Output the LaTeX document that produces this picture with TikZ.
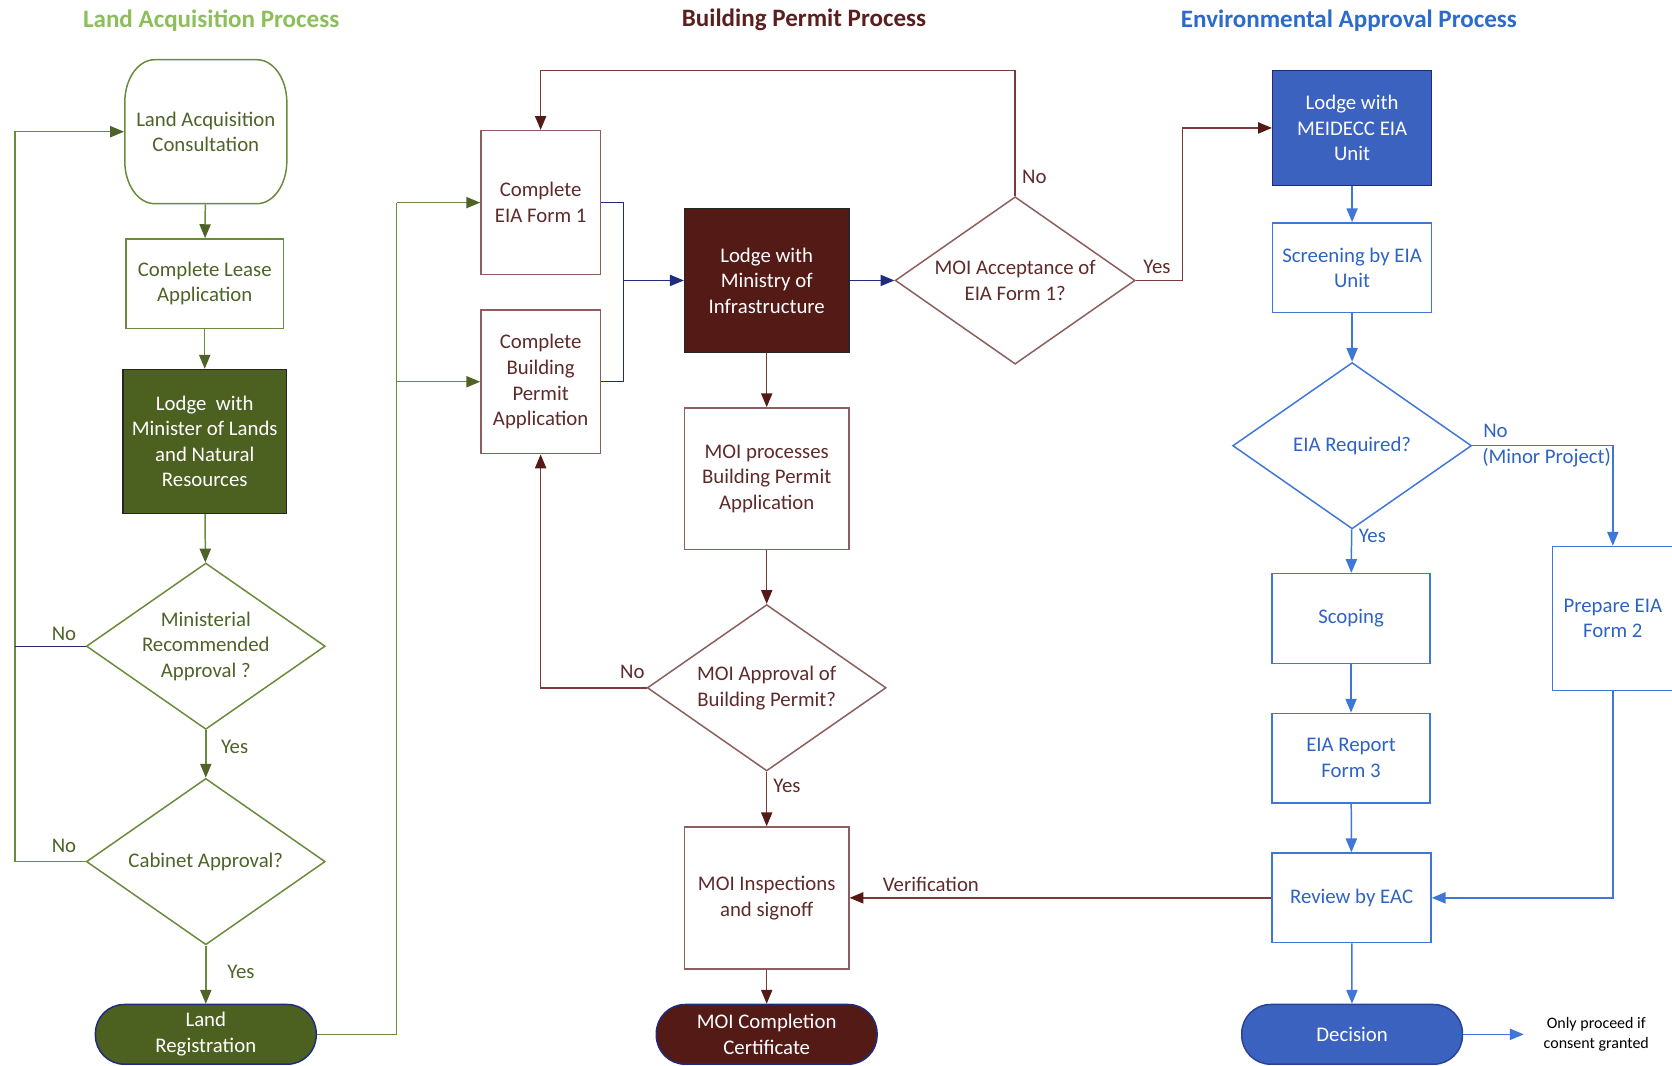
\documentclass[tikz,border=0pt]{standalone}
\usepackage{fontspec}
\setmainfont{Carlito}
\usetikzlibrary{shapes.geometric,arrows.meta}

\definecolor{grnttl}{HTML}{8CBF5A}
\definecolor{grnln}{HTML}{6A8A3C}
\definecolor{grntxt}{HTML}{4F6228}
\definecolor{grnfill}{HTML}{4C6020}
\definecolor{brnttl}{HTML}{5B1F1F}
\definecolor{brnln}{HTML}{7A3A3A}
\definecolor{brnbrd}{HTML}{8C5E5E}
\definecolor{brntxt}{HTML}{5E2A2A}
\definecolor{brnfill}{HTML}{541A16}
\definecolor{bluttl}{HTML}{2C6ACB}
\definecolor{bluln}{HTML}{3F77D6}
\definecolor{blutxt}{HTML}{2F63C2}
\definecolor{blufill}{HTML}{3A62BE}
\definecolor{navyln}{HTML}{1F2C7C}

\begin{document}
\begin{tikzpicture}[x=1pt, y=-1pt, line width=1.4pt,
  font=\fontsize{19.5}{24}\selectfont,
  ttl/.style={font=\fontsize{23.5}{28}\selectfont\bfseries},
  tip/.style={-{Triangle[length=13pt,width=10.5pt,color=#1]}},
  grnbox/.style={draw=grnln, text=grntxt, align=center, inner sep=0pt},
  brnbox/.style={draw=brnbrd, text=brntxt, align=center, inner sep=0pt},
  blubox/.style={draw=bluln, text=blutxt, align=center, inner sep=0pt},
  grndia/.style={grnbox, shape=diamond, aspect=1.43, minimum width=224, minimum height=156},
  brndia/.style={brnbox, shape=diamond, aspect=1.43, minimum width=224, minimum height=156},
  bludia/.style={blubox, shape=diamond, aspect=1.43, minimum width=224, minimum height=156},
  term/.style={align=center, text=white, inner sep=0pt, rounded corners=27pt, minimum width=207, minimum height=56},
  gline/.style={draw=grnln}, garr/.style={gline, tip=grntxt},
  bline/.style={draw=brnln}, barr/.style={bline, tip=brnfill},
  nline/.style={draw=navyln, line width=1.1pt}, narr/.style={nline, tip=navyln},
  uline/.style={draw=bluln}, uarr/.style={uline, tip=bluln},
  glbl/.style={text=grntxt}, blbl/.style={text=brntxt}, ulbl/.style={text=blutxt}]
\useasboundingbox (0,0) rectangle (1568,999);

% titles
\node[ttl, text=grnttl] (ttlL) at (198,19) {Land Acquisition Process};
\node[ttl, text=brnttl] (ttlM) at (754,19) {Building Permit Process};
\node[ttl, text=bluttl] (ttlR) at (1265,19) {Environmental Approval Process};

% land acquisition
\node[grnbox, draw=none, minimum width=152, minimum height=135] (consult) at (193,123.5) {Land Acquisition\\Consultation};
\draw[gline] (145,56) -- (241,56) arc[start angle=-90, end angle=0, x radius=28, y radius=40]
  -- (269,151) arc[start angle=0, end angle=90, x radius=28, y radius=40]
  -- (145,191) arc[start angle=90, end angle=180, x radius=28, y radius=40]
  -- (117,96) arc[start angle=180, end angle=270, x radius=28, y radius=40] -- cycle;
\node[grnbox, minimum width=148, minimum height=84] (lease) at (192,266) {Complete Lease\\Application};
\node[grnbox, fill=grnfill, draw=black!85, text=white, minimum width=153, minimum height=135] (lodgeL) at (192,414) {Lodge\ \ with\\Minister of Lands\\and Natural\\Resources};
\node[grndia] (minist) at (193,606) {Ministerial\\Recommended\\Approval ?};
\node[grndia] (cabinet) at (193,808) {Cabinet Approval?};
\node[term, fill=grnfill, draw=navyln] (landreg) at (193,970) {Land\\Registration};

% building permit
\node[brnbox, minimum width=112, minimum height=135] (eia1) at (507,190) {Complete\\EIA Form 1};
\node[brnbox, minimum width=112, minimum height=135] (bpa) at (507,358) {Complete\\Building\\Permit\\Application};
\node[brnbox, fill=brnfill, draw=black!85, text=white, minimum width=154, minimum height=135] (lodgeM) at (719,263) {Lodge with\\Ministry of\\Infrastructure};
\node[brndia, minimum width=225, minimum height=157] (accept) at (952,263) {MOI Acceptance of\\EIA Form 1?};
\node[brnbox, minimum width=154, minimum height=133] (process) at (719,449) {MOI processes\\Building Permit\\Application};
\node[brndia] (approve) at (719,645) {MOI Approval of\\Building Permit?};
\node[brnbox, minimum width=154, minimum height=133] (inspect) at (719,842) {MOI Inspections\\and signoff};
\node[term, fill=brnfill, draw=navyln] (cert) at (719,970) {MOI Completion\\Certificate};

% environmental approval
\node[blubox, fill=blufill, draw=navyln, text=white, minimum width=149, minimum height=108] (lodgeE) at (1268,120) {Lodge with\\MEIDECC EIA\\Unit};
\node[blubox, minimum width=149, minimum height=84] (screen) at (1268,251) {Screening by EIA\\Unit};
\node[bludia] (eiareq) at (1268,418) {EIA Required?};
\node[blubox, minimum width=148, minimum height=84] (scoping) at (1267,580) {Scoping};
\node[blubox, minimum width=148, minimum height=84] (report) at (1267,711) {EIA Report\\Form 3};
\node[blubox, minimum width=149, minimum height=84] (review) at (1267.5,842) {Review by EAC};
\node[blubox, minimum width=113, minimum height=135] (form2) at (1512.5,580) {Prepare EIA\\Form 2};
\node[term, fill=blufill, draw=navyln!70!bluln] (decision) at (1268,970) {Decision};
\node[align=center, inner sep=0pt, font=\fontsize{15}{19}\selectfont] (note) at (1497,970) {Only proceed if\\consent granted};

% green connectors
\draw[garr] (consult) -- (lease);
\draw[garr] (lease) -- (lodgeL);
\draw[garr] (lodgeL) -- (minist);
\draw[garr] (minist) -- (cabinet);
\draw[garr] (cabinet) -- (landreg);
\coordinate (loopG) at (14,808);
\draw[garr] (cabinet.west) -- (loopG) |- (consult.west);
\draw[nline] (minist.west) -- (minist.west -| loopG);
\coordinate (busG) at (372,190);
\draw[gline] (landreg.east) -| (busG);
\draw[garr] (busG) -- (eia1);
\draw[garr] (busG |- bpa) -- (bpa);
\node[glbl] (noMin) at (60,594) {No};
\node[glbl] (noCab) at (60,793) {No};
\node[glbl] (yesMin) at (220,700) {Yes};
\node[glbl] (yesCab) at (226,911) {Yes};

% navy and brown connectors
\coordinate (busN) at (585,263);
\draw[nline] (eia1.east) -| (busN);
\draw[nline] (bpa.east) -| (busN);
\draw[narr] (busN) -- (lodgeM);
\draw[narr] (lodgeM) -- (accept);
\coordinate (loopB) at (952,66);
\draw[barr] (accept.north) -- (loopB) -| (eia1.north);
\coordinate (busY) at (1109,120);
\draw[barr] (accept.east) -| (busY) -- (lodgeE);
\draw[barr] (lodgeM) -- (process);
\draw[barr] (process) -- (approve);
\draw[barr] (approve) -- (inspect);
\draw[barr] (inspect) -- (cert);
\draw[barr] (approve.west) -| (bpa.south);
\draw[barr] (review) -- (inspect);
\node[blbl] (noAcc) at (970,166) {No};
\node[blbl] (yesAcc) at (1085,250) {Yes};
\node[blbl] (noApp) at (593,630) {No};
\node[blbl] (yesApp) at (738,737) {Yes};
\node[blbl] (verif) at (873,829) {Verification};

% blue connectors
\draw[uarr] (lodgeE) -- (screen);
\draw[uarr] (screen) -- (eiareq);
\draw[uarr] (eiareq) -- (scoping);
\draw[uarr] (scoping) -- (report);
\draw[uarr] (report) -- (review);
\draw[uarr] (review) -- (decision);
\draw[uarr] (eiareq.east) -| (form2.north);
\draw[uarr] (form2.south) |- (review.east);
\draw[uarr, shorten >=18pt] (decision) -- (note);
\node[ulbl, anchor=west] (noReq) at (1387,404) {No};
\node[ulbl, anchor=west] (minor) at (1386,429) {(Minor Project)};
\node[ulbl] (yesReq) at (1287,503) {Yes};
\end{tikzpicture}
\end{document}
